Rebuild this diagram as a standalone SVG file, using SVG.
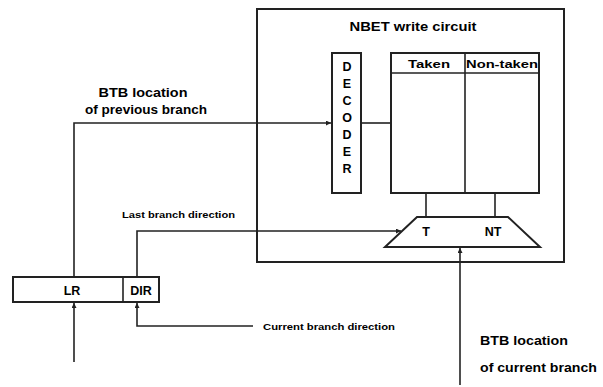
<svg xmlns="http://www.w3.org/2000/svg" width="603" height="387" viewBox="0 0 603 387">
<style>
.b{fill:#fff;stroke:#222;stroke-width:2}
.l{fill:none;stroke:#222;stroke-width:1.6}
text{font-family:"Liberation Sans",Arial,sans-serif;font-weight:bold;fill:#000}
.c{text-anchor:middle}
</style>
<defs>
<marker id="a" viewBox="0 0 10 10" refX="10" refY="5" markerWidth="5" markerHeight="5" orient="auto" markerUnits="userSpaceOnUse"><path d="M0,0 L10,5 L0,10 z" fill="#222"/></marker>
</defs>
<g id="nbet">
<rect class="b" x="257" y="9" width="307" height="253"/>
<text class="c" x="413" y="31" font-size="12.5" textLength="127" lengthAdjust="spacingAndGlyphs">NBET write circuit</text>
</g>
<g id="decoder">
<rect class="b" x="332" y="53" width="29" height="140"/>
<text class="c" font-size="12.5" x="347"><tspan x="347" y="71">D</tspan><tspan x="347" y="88">E</tspan><tspan x="347" y="105">C</tspan><tspan x="347" y="122">O</tspan><tspan x="347" y="139">D</tspan><tspan x="347" y="156">E</tspan><tspan x="347" y="173">R</tspan></text>
</g>
<g id="table">
<rect class="b" x="391" y="53" width="148" height="140"/>
<line class="l" x1="391" y1="73" x2="539" y2="73"/>
<line class="l" x1="465" y1="53" x2="465" y2="193"/>
<text class="c" x="429" y="68" font-size="11.5" textLength="42" lengthAdjust="spacingAndGlyphs">Taken</text>
<text class="c" x="502" y="68" font-size="11.5" textLength="72" lengthAdjust="spacingAndGlyphs">Non-taken</text>
</g>
<g id="mux">
<path class="b" d="M417,217 L508,217 L540,247 L385,247 Z"/>
<text class="c" x="426" y="236" font-size="12.5">T</text>
<text class="c" x="493" y="236" font-size="12.5">NT</text>
</g>
<g id="reg">
<rect class="b" x="13" y="277" width="146" height="25"/>
<line class="l" x1="123" y1="277" x2="123" y2="302"/>
<text class="c" x="72" y="295" font-size="12.5">LR</text>
<text class="c" x="141" y="295" font-size="12.5">DIR</text>
</g>
<g id="connectors">
<polyline class="l" points="74,277 74,123 331,123" marker-end="url(#a)"/>
<line class="l" x1="361" y1="123" x2="391" y2="123"/>
<line class="l" x1="426" y1="193" x2="426" y2="217"/>
<line class="l" x1="495" y1="193" x2="495" y2="217"/>
<polyline class="l" points="137,277 137,231 401,231" marker-end="url(#a)"/>
<line class="l" x1="74" y1="362" x2="74" y2="303" marker-end="url(#a)"/>
<polyline class="l" points="253,326 137,326 137,303" marker-end="url(#a)"/>
<line class="l" x1="460" y1="385" x2="460" y2="248" marker-end="url(#a)"/>
</g>
<g id="labels">
<text class="c" x="143" y="97" font-size="12.5" textLength="89" lengthAdjust="spacingAndGlyphs">BTB location</text>
<text class="c" x="146" y="114" font-size="12.5" textLength="122" lengthAdjust="spacingAndGlyphs">of previous branch</text>
<text x="122" y="218" font-size="9.5" textLength="113" lengthAdjust="spacingAndGlyphs">Last branch direction</text>
<text x="263" y="330" font-size="9.5" textLength="132" lengthAdjust="spacingAndGlyphs">Current branch direction</text>
<text x="480" y="345" font-size="13" textLength="88" lengthAdjust="spacingAndGlyphs">BTB location</text>
<text x="480" y="372" font-size="12.5" textLength="117" lengthAdjust="spacingAndGlyphs">of current branch</text>
</g>
</svg>
